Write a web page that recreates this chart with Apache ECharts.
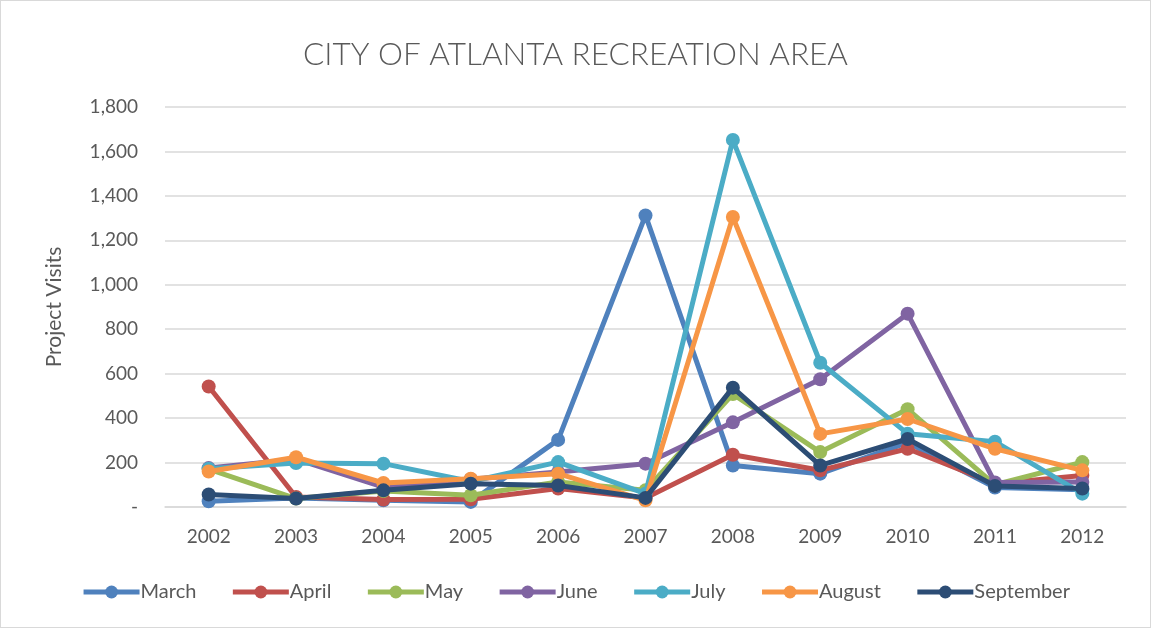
<!DOCTYPE html>
<html><head><meta charset="utf-8">
<script src="https://cdn.jsdelivr.net/npm/echarts@6/dist/echarts.min.js"></script>
<style>html,body{margin:0;padding:0;background:#fff}#c{width:1151px;height:628px;box-sizing:border-box;border:1px solid #d9d9d9}</style>
</head><body><div id="c"></div>
<script>
const years = ['2002','2003','2004','2005','2006','2007','2008','2009','2010','2011','2012'];
const march     = [26, 40, 30, 23, 302, 1312, 187, 150, 290, 88, 78];
const april     = [542, 45, 34, 35, 83, 40, 235, 165, 262, 105, 142];
const may       = [170, 38, 72, 53, 113, 75, 508, 247, 440, 100, 202];
const june      = [175, 215, 90, 125, 157, 195, 381, 575, 870, 110, 113];
const july      = [172, 198, 195, 115, 202, 60, 1652, 649, 330, 294, 60];
const august    = [160, 224, 108, 127, 150, 30, 1305, 329, 396, 262, 165];
const september = [56, 38, 75, 105, 97, 41, 537, 187, 306, 95, 83];
const seriesNames = ['March','April','May','June','July','August','September'];
const seriesData = [march, april, may, june, july, august, september];
const colors = ['#4F81BD','#C0504D','#9BBB59','#8064A2','#4BACC6','#F79646','#2C4D75'];

const chart = echarts.init(document.getElementById('c'));
const font = "Lato, 'Liberation Sans', sans-serif";
chart.setOption({
  animation: false,
  color: colors,
  title: {
    text: 'CITY OF ATLANTA RECREATION AREA',
    left: 'center', top: 33,
    textStyle: {fontFamily: font, fontSize: 31.5, fontWeight: 300, color: '#595959'}
  },
  grid: {left: 164, right: 24, top: 106, bottom: 120},
  legend: {
    bottom: 20, left: 'center',
    itemWidth: 56, itemHeight: 16, itemGap: 34,
    textStyle: {fontFamily: font, fontSize: 20, color: '#595959', padding: [0,0,0,-4]},
    lineStyle: {width: 5},
    data: seriesNames
  },
  xAxis: {
    type: 'category', data: years, boundaryGap: true,
    axisLine: {lineStyle: {color: '#d9d9d9', width: 1.5}},
    axisTick: {show: false},
    axisLabel: {fontFamily: font, fontSize: 19, color: '#595959', margin: 20}
  },
  yAxis: {
    type: 'value', min: 0, max: 1800, interval: 200,
    name: 'Project Visits', nameLocation: 'middle', nameGap: 100, nameRotate: 90,
    nameTextStyle: {fontFamily: font, fontSize: 21, color: '#595959'},
    axisLine: {show: false}, axisTick: {show: false},
    splitLine: {lineStyle: {color: '#d9d9d9', width: 1.5}},
    axisLabel: {
      fontFamily: font, fontSize: 19, color: '#595959', margin: 27,
      formatter: v => v === 0 ? '-' : v.toLocaleString('en-US')
    }
  },
  series: seriesNames.map((n, i) => ({
    name: n, type: 'line', data: seriesData[i],
    symbol: 'circle', symbolSize: 14,
    lineStyle: {width: 5},
    z: 2 + i
  }))
});
</script></body></html>
